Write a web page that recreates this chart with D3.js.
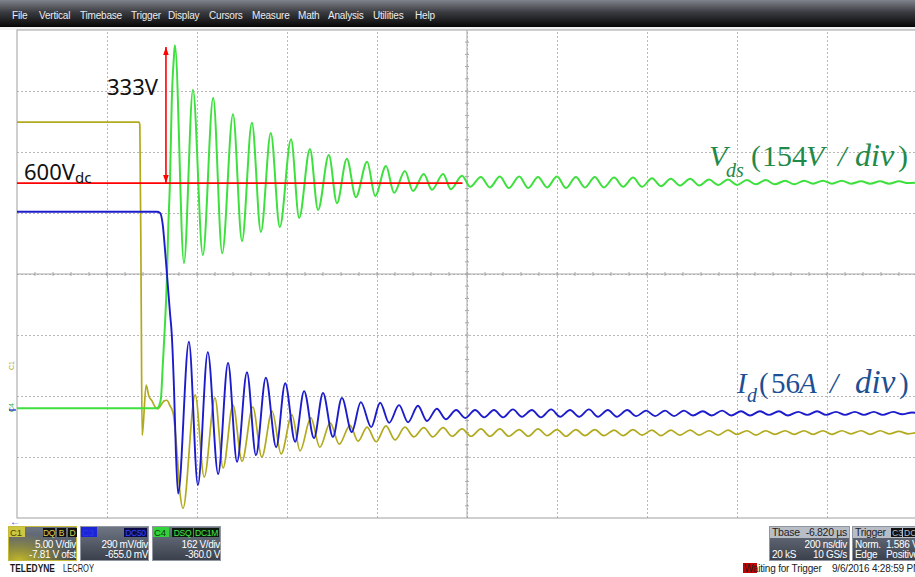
<!DOCTYPE html>
<html>
<head>
<meta charset="utf-8">
<script src="https://cdnjs.cloudflare.com/ajax/libs/d3/7.8.5/d3.min.js"></script>
<style>
  html, body { margin: 0; padding: 0; background: #fff; }
  svg { display: block; font-family: "Liberation Sans", Arial, sans-serif; }
</style>
</head>
<body>
<svg id="canvas" width="915" height="577"></svg>
<script>
// time in ns from the left edge of the screen (200 ns/div), level in divisions from centre
let menuItems = ['File', 'Vertical', 'Timebase', 'Trigger', 'Display', 'Cursors', 'Measure', 'Math', 'Analysis', 'Utilities', 'Help']

// C1 (olive) gate trace
let vgs = [[0,2.49],[271,2.49],[273,2.44],[276,-0.43],[278,-2.64],[280,-2.52],[287,-1.82],[293,-2.00],[300,-2.08],[307,-2.18],[313,-2.21],[320,-2.15],[327,-2.08],[333,-2.07],[340,-2.16],[347,-2.28],[351,-2.52],[356,-2.97],[362,-3.57],[369,-3.84],
  [396,-1.98],[416,-3.33],[440,-2.03],[458,-3.18],[480,-2.15],[500,-3.07],[524,-2.18],[544,-3.00],[567,-2.25],[587,-2.95],[611,-2.31],[629,-2.90],[653,-2.36],[673,-2.84],[696,-2.44],[716,-2.79],[740,-2.48],[758,-2.74],[778,-2.51],[798,-2.75],[820,-2.49],[840,-2.72],[862,-2.51],[882,-2.67],[904,-2.52],[924,-2.67],[947,-2.52],[967,-2.66],[989,-2.54],[1009,-2.66],[1031,-2.54],
  [1051,-2.66],[1073,-2.54],[1093,-2.66],[1116,-2.55],[1136,-2.66],[1158,-2.54],[1178,-2.65],[1200,-2.55],[1220,-2.66],[1242,-2.55],[1262,-2.65],[1284,-2.55],[1304,-2.65],[1327,-2.56],[1347,-2.65],[1369,-2.55],[1389,-2.64],[1411,-2.56],[1431,-2.65],[1453,-2.56],[1473,-2.64],[1496,-2.56],[1516,-2.64],[1538,-2.57],[1558,-2.64],[1580,-2.56],[1600,-2.63],[1622,-2.57],[1642,-2.64],[1664,-2.57],[1684,-2.63],[1707,-2.57],[1727,-2.63],[1749,-2.57],[1769,-2.63],[1791,-2.57],[1811,-2.63],[1833,-2.57],[1853,-2.62],[1876,-2.57],[1896,-2.63],[1918,-2.57],[1938,-2.62],[1960,-2.58],[1980,-2.62],[2000,-2.60]]

// blue drain current Id
let id = [[0,1.02],[311,1.02],[318,1.00],[324,0.80],[329,0.39],[333,0.02],[340,-0.64],[344,-1.00],[349,-1.90],[353,-2.89],[358,-3.60],
  [382,-1.11],[402,-3.46],[424,-1.28],[447,-3.28],[469,-1.46],[489,-3.08],[511,-1.61],[531,-2.97],[553,-1.70],[576,-2.84],[596,-1.79],[618,-2.75],[638,-1.92],[660,-2.69],[680,-1.95],[702,-2.67],[722,-2.03],[744,-2.59],[764,-2.10],[787,-2.51],[807,-2.11],[827,-2.44],[849,-2.15],[869,-2.43],[891,-2.16],[911,-2.41],[933,-2.21],[953,-2.38],[976,-2.23],[996,-2.36],[1018,-2.23],[1038,-2.35],
  [1060,-2.23],[1080,-2.35],[1102,-2.22],[1122,-2.34],[1144,-2.23],[1164,-2.35],[1187,-2.22],[1207,-2.34],[1229,-2.23],[1249,-2.34],[1271,-2.22],[1291,-2.34],[1313,-2.23],[1333,-2.34],[1356,-2.23],[1376,-2.33],[1398,-2.24],[1418,-2.33],[1440,-2.24],[1460,-2.33],[1482,-2.24],[1502,-2.32],[1524,-2.25],[1544,-2.32],[1567,-2.24],[1587,-2.32],[1609,-2.25],[1629,-2.32],[1651,-2.25],[1671,-2.31],[1693,-2.25],[1713,-2.32],[1736,-2.26],[1756,-2.31],[1778,-2.25],[1798,-2.31],[1820,-2.26],[1840,-2.31],[1862,-2.26],[1882,-2.31],[1904,-2.26],[1924,-2.31],[1947,-2.26],[1967,-2.30],[1989,-2.27],[2000,-2.28]]

// green drain-source voltage Vds
let vds = [[0,-2.20],[311,-2.20],[316,-2.16],[320,-2.03],[324,-1.49],[329,-0.80],[333,-0.10],[336,0.72],[340,1.54],[344,2.85],[349,3.59],[351,3.75],
  [371,0.18],[391,3.02],[413,0.31],[436,2.89],[456,0.34],[480,2.62],[500,0.54],[522,2.48],[542,0.69],[564,2.31],[584,0.77],[609,2.21],[627,0.92],[651,2.05],[669,1.05],[693,1.95],[711,1.16],[733,1.89],[753,1.26],[778,1.84],[796,1.28],[820,1.77],[838,1.33],[862,1.69],[880,1.36],[904,1.64],[922,1.38],[947,1.64],[964,1.39],[989,1.61],[1007,1.43],[1031,1.59],
  [1051,1.42],[1073,1.60],[1093,1.41],[1116,1.60],[1136,1.41],[1158,1.59],[1178,1.42],[1200,1.60],[1220,1.41],[1242,1.59],[1262,1.42],[1284,1.59],[1304,1.42],[1327,1.58],[1347,1.43],[1369,1.58],[1389,1.43],[1411,1.57],[1431,1.44],[1453,1.56],[1473,1.45],[1496,1.56],[1516,1.45],[1538,1.55],[1558,1.46],[1580,1.55],[1600,1.46],[1622,1.54],[1642,1.47],[1664,1.54],[1684,1.47],[1707,1.53],[1727,1.47],[1749,1.53],[1769,1.48],[1791,1.53],[1811,1.48],[1833,1.53],[1853,1.48],[1876,1.52],[1896,1.48],[1918,1.52],[1938,1.48],[1960,1.52],[1980,1.49],[2000,1.50]]

let dcLevel = 1.49     // 600 Vdc marker, div
let peakLevel = 3.72   // top of the 333 V overshoot
let arrowTime = 331
let dcLineEnd = 990

let chanLabels = ['C1', 'C3', 'C4']
let chanTags = [['DQ', 'B', 'D'], ['DC50'], ['DSQ', 'DC1M']]
let chanScale = ['5.00 V/div', '290 mV/div', '162 V/div']
let chanOffset = ['-7.81 V ofst', '-655.0 mV', '-360.0 V']

let svg = d3.select('#canvas')
let defs = svg.append('defs')

let x = d3.scaleLinear().domain([0, 2000]).range([17, 917])
let y = d3.scaleLinear().domain([-4, 4]).range([518, 30])

// ---------- menu bar
let mg = defs.append('linearGradient').attr('id', 'menuGrad')
    .attr('x1', 0).attr('x2', 0).attr('y1', 0).attr('y2', 1)
mg.append('stop').attr('offset', '0%').attr('stop-color', '#80838b')
mg.append('stop').attr('offset', '45%').attr('stop-color', '#3b3c41')
mg.append('stop').attr('offset', '100%').attr('stop-color', '#060606')

svg.append('rect').attr('x', 0).attr('y', 0).attr('width', 915).attr('height', 27).attr('fill', 'url(#menuGrad)')
svg.append('rect').attr('x', 0).attr('y', 27).attr('width', 915).attr('height', 3).attr('fill', '#f2f2f2')

let menuX = [12, 39, 80, 131, 168, 209, 252, 298, 328, 373, 415]
svg.append('g').selectAll('text')
    .data(menuItems)
    .enter()
    .append('text')
    .attr('x', (d, i) => menuX[i])
    .attr('y', 18.5)
    .attr('font-size', 10)
    .attr('letter-spacing', -0.2)
    .attr('fill', '#ececec')
    .text(d => d)

// ---------- grid
let grid = svg.append('g')
grid.append('g')
    .attr('transform', 'translate(0,518)')
    .call(d3.axisBottom(x).tickValues(d3.range(200, 2000, 200)).tickSize(-488).tickFormat(''))
grid.append('g')
    .attr('transform', 'translate(17,0)')
    .call(d3.axisLeft(y).tickValues(d3.range(-3, 4, 1)).tickSize(-900).tickFormat(''))
grid.selectAll('.domain').remove()
grid.selectAll('.tick line')
    .attr('stroke', '#b8b8b8')
    .attr('stroke-dasharray', '2,2')

// centre lines with minor ticks
let centre = svg.append('g').attr('stroke', '#a8a8a8')
centre.append('line').attr('x1', x(0)).attr('x2', x(2000)).attr('y1', y(0)).attr('y2', y(0))
centre.append('line').attr('x1', x(1000)).attr('x2', x(1000)).attr('y1', y(-4)).attr('y2', y(4))
centre.selectAll('.hx')
    .data(d3.range(40, 2000, 40))
    .enter()
    .append('line')
    .attr('x1', d => x(d)).attr('x2', d => x(d))
    .attr('y1', y(0) - 2).attr('y2', y(0) + 2)
centre.selectAll('.vy')
    .data(d3.range(-3.8, 4, 0.2))
    .enter()
    .append('line')
    .attr('x1', x(1000) - 2).attr('x2', x(1000) + 2)
    .attr('y1', d => y(d)).attr('y2', d => y(d))

svg.append('rect')
    .attr('x', x(0)).attr('y', y(4))
    .attr('width', x(2000) - x(0)).attr('height', y(-4) - y(4))
    .attr('fill', 'none').attr('stroke', '#a0a0a0')

// ---------- traces
let line = d3.line()
    .x(d => x(d[0]))
    .y(d => y(d[1]))
    .curve(d3.curveMonotoneX)

svg.append('path').datum(vgs)
    .attr('d', line).attr('fill', 'none')
    .attr('stroke', '#b2aa1e').attr('stroke-width', 1.7)
svg.append('path').datum(vds)
    .attr('d', line).attr('fill', 'none')
    .attr('stroke', '#3ee03e').attr('stroke-width', 2)
svg.append('path').datum(id)
    .attr('d', line).attr('fill', 'none')
    .attr('stroke', '#1c1ccc').attr('stroke-width', 1.9)

// ---------- channel markers at the left
svg.append('text').attr('transform', 'translate(14,370) rotate(-90)')
    .attr('font-size', 7).attr('fill', '#b2aa1e').text('C1')
svg.append('text').attr('transform', 'translate(14,412) rotate(-90)')
    .attr('font-size', 7).attr('fill', '#2ab04a').text('C4')
svg.append('line').attr('x1', 9).attr('x2', 16).attr('y1', 410).attr('y2', 410)
    .attr('stroke', '#1c1ccc').attr('stroke-width', 1.2)
svg.append('text').attr('x', 10).attr('y', 525)
    .attr('font-size', 10).attr('fill', '#2233dd').text('←')

// ---------- annotations
defs.append('marker').attr('id', 'arrow')
    .attr('viewBox', '0 0 10 7').attr('refX', 10).attr('refY', 3.5)
    .attr('markerWidth', 8).attr('markerHeight', 10)
    .attr('markerUnits', 'userSpaceOnUse')
    .attr('orient', 'auto-start-reverse')
    .append('path').attr('d', 'M0,0 L10,3.5 L0,7 Z').attr('fill', '#ff0000')

svg.append('line')
    .attr('x1', x(0)).attr('x2', x(dcLineEnd))
    .attr('y1', y(dcLevel)).attr('y2', y(dcLevel))
    .attr('stroke', '#ff0000').attr('stroke-width', 1.6)
svg.append('line')
    .attr('x1', x(arrowTime)).attr('x2', x(arrowTime))
    .attr('y1', y(dcLevel)).attr('y2', y(peakLevel))
    .attr('stroke', '#ff0000').attr('stroke-width', 1.6)
    .attr('marker-start', 'url(#arrow)').attr('marker-end', 'url(#arrow)')

svg.append('text').attr('x', 107).attr('y', 95)
    .attr('font-family', '"Noto Sans", sans-serif').attr('font-size', 22).attr('fill', '#111')
    .text('333V')
let dcText = svg.append('text').attr('x', 24).attr('y', 180)
    .attr('font-family', '"Noto Sans", sans-serif').attr('font-size', 22).attr('fill', '#111')
dcText.append('tspan').text('600V')
dcText.append('tspan').attr('font-size', 15).attr('dy', 3).text('dc')

// math-style labels, each piece placed where it sits in the screenshot
let serif = '"Liberation Serif", "Times New Roman", serif'
let mathLabel = (pieces, baseline, size, colour) => {
    let g = svg.append('g')
        .attr('font-family', serif)
        .attr('fill', colour)
    pieces.forEach(p => {
        g.append('text')
            .attr('x', p.x)
            .attr('y', baseline + (p.sub ? p.sub : 0))
            .attr('font-size', p.sub ? 20 : (p.size || size))
            .attr('font-style', p.it ? 'italic' : 'normal')
            .text(p.s)
    })
}
mathLabel([
    {s: 'V', x: 709, it: true},
    {s: 'ds', x: 726, it: true, sub: 11},
    {s: '(', x: 751},
    {s: '154', x: 762},
    {s: 'V', x: 806, it: true},
    {s: '/', x: 838, it: true},
    {s: 'div', x: 855, it: true, size: 32},
    {s: ')', x: 898}
], 166, 30, '#1f8a4a')
mathLabel([
    {s: 'I', x: 737, it: true},
    {s: 'd', x: 747, it: true, sub: 9},
    {s: '(', x: 759},
    {s: '56', x: 771},
    {s: 'A', x: 799, it: true},
    {s: '/', x: 830, it: true},
    {s: 'div', x: 855, it: true, size: 33},
    {s: ')', x: 899}
], 393, 29, '#1d4f94')

// ---------- channel panels at the bottom
let pg = defs.append('linearGradient').attr('id', 'panelGrad')
    .attr('x1', 0).attr('x2', 0).attr('y1', 0).attr('y2', 1)
pg.append('stop').attr('offset', '0%').attr('stop-color', '#6f7684')
pg.append('stop').attr('offset', '100%').attr('stop-color', '#3a404b')

let glow = defs.append('radialGradient').attr('id', 'c1Glow')
    .attr('cx', 0.15).attr('cy', 1).attr('r', 0.8)
glow.append('stop').attr('offset', '0%').attr('stop-color', '#c8bd2a').attr('stop-opacity', 0.95)
glow.append('stop').attr('offset', '100%').attr('stop-color', '#c8bd2a').attr('stop-opacity', 0)

let panelX = [8, 80, 152]
let tagX = [[35, 49, 60], [44], [20, 42]]
let tagW = [[12, 9, 9], [23], [21, 25]]
let labelFill = ['#cfc641', '#1b25d6', '#34d23a']
let labelInk = ['#4a4400', '#2b39e8', '#0a3a0a']
let tagInk = ['#d8cf5a', '#3344ff', '#44ea4e']
let tagBg = ['#111', '#0a0a4a', '#0c1a0c']
let border = ['#c4bb3c', '#9196a0', '#9196a0']

chanLabels.forEach((name, i) => {
    let g = svg.append('g').attr('transform', 'translate(' + panelX[i] + ',526)')
    g.append('rect').attr('x', 0.5).attr('y', 0.5).attr('width', 68).attr('height', 34)
        .attr('fill', 'url(#panelGrad)').attr('stroke', border[i])
    if (i === 0) {
        g.append('rect').attr('x', 1).attr('y', 1).attr('width', 67).attr('height', 33).attr('fill', 'url(#c1Glow)')
    }
    g.append('rect').attr('x', 1).attr('y', 1).attr('width', 16).attr('height', 10).attr('fill', labelFill[i])
    g.append('text').attr('x', 2).attr('y', 9.5).attr('font-size', 9.5).attr('fill', labelInk[i]).text(name)

    chanTags[i].forEach((tag, k) => {
        g.append('rect').attr('x', tagX[i][k]).attr('y', 2).attr('width', tagW[i][k]).attr('height', 9).attr('fill', tagBg[i])
        g.append('text').attr('x', tagX[i][k] + tagW[i][k] / 2).attr('y', 10).attr('text-anchor', 'middle')
            .attr('font-size', 8.5).attr('letter-spacing', -0.3)
            .attr('fill', tagInk[i]).text(tag)
    })
    g.append('text').attr('x', 68).attr('y', 21.5).attr('text-anchor', 'end')
        .attr('font-size', 10).attr('letter-spacing', -0.35).attr('fill', '#fff').text(chanScale[i])
    g.append('text').attr('x', 68).attr('y', 32).attr('text-anchor', 'end')
        .attr('font-size', 10).attr('letter-spacing', -0.35).attr('fill', '#fff').text(chanOffset[i])
})

svg.append('text').attr('x', 10).attr('y', 572)
    .attr('font-size', 11).attr('font-weight', 'bold').attr('fill', '#1a1a1a')
    .attr('textLength', 45).attr('lengthAdjust', 'spacingAndGlyphs').text('TELEDYNE')
svg.append('text').attr('x', 63).attr('y', 572)
    .attr('font-size', 10).attr('fill', '#1a1a1a')
    .attr('textLength', 31).attr('lengthAdjust', 'spacingAndGlyphs').text('LECROY')

// ---------- timebase and trigger boxes
let boxes = [
    {x: 769, w: 80, head: ['Tbase', '-6.820 µs'], rows: [['', '200 ns/div'], ['20 kS', '10 GS/s']]},
    {x: 852, w: 80, head: ['Trigger', ''], rows: [['Norm.', '1.586 V'], ['Edge', 'Positive']]}
]
boxes.forEach(b => {
    let g = svg.append('g').attr('transform', 'translate(' + b.x + ',526)')
    g.append('rect').attr('x', 0.5).attr('y', 0.5).attr('width', b.w).attr('height', 34)
        .attr('fill', 'url(#panelGrad)').attr('stroke', '#9196a0')
    g.append('rect').attr('x', 1).attr('y', 1).attr('width', b.w - 1).attr('height', 11).attr('fill', '#b9bdc5')
    g.append('text').attr('x', 3).attr('y', 10).attr('font-size', 10.5).attr('letter-spacing', -0.3).attr('fill', '#222').text(b.head[0])
    g.append('text').attr('x', b.w - 2).attr('y', 10).attr('text-anchor', 'end')
        .attr('font-size', 10.5).attr('letter-spacing', -0.3).attr('fill', '#222').text(b.head[1])
    b.rows.forEach((r, j) => {
        g.append('text').attr('x', 3).attr('y', 22 + j * 10).attr('font-size', 10).attr('letter-spacing', -0.3).attr('fill', '#fff').text(r[0])
        if (b.x === 852) {
            g.append('text').attr('x', 34).attr('y', 22 + j * 10).attr('font-size', 10).attr('letter-spacing', -0.3).attr('fill', '#fff').text(r[1])
        } else {
            g.append('text').attr('x', b.w - 2).attr('y', 22 + j * 10).attr('text-anchor', 'end')
                .attr('font-size', 10).attr('letter-spacing', -0.3).attr('fill', '#fff').text(r[1])
        }
    })
})
// trigger source tags
svg.append('rect').attr('x', 891).attr('y', 528).attr('width', 11).attr('height', 9).attr('fill', '#111')
svg.append('text').attr('x', 892).attr('y', 536).attr('font-size', 8.5).attr('fill', '#bbb').text('C3')
svg.append('rect').attr('x', 903).attr('y', 528).attr('width', 14).attr('height', 9).attr('fill', '#111')
svg.append('text').attr('x', 904).attr('y', 536).attr('font-size', 8.5).attr('fill', '#bbb').text('DC')

svg.append('rect').attr('x', 743).attr('y', 563).attr('width', 14).attr('height', 10).attr('fill', '#c40000')
svg.append('text').attr('x', 744).attr('y', 571.5).attr('font-size', 10).attr('letter-spacing', -0.2).attr('fill', '#222').text('Waiting for Trigger')
svg.append('text').attr('x', 832).attr('y', 571.5).attr('font-size', 10).attr('letter-spacing', -0.2).attr('fill', '#222').text('9/6/2016 4:28:59 PM')
</script>
</body>
</html>
